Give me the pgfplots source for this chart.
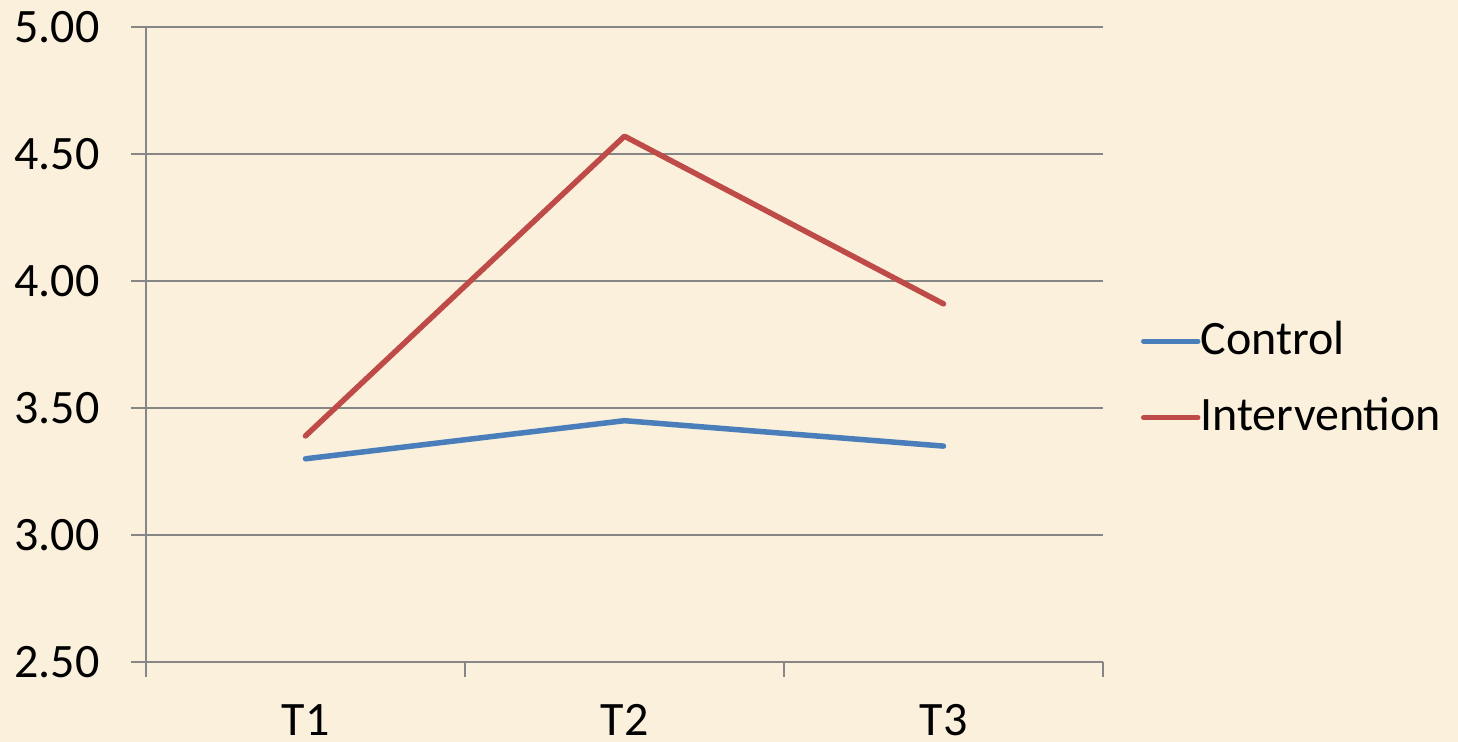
\documentclass[border=0pt]{standalone}
\usepackage{fontspec}
\setmainfont{Carlito}
\usepackage{pgfplots}
\pgfplotsset{compat=1.18}
\definecolor{bg}{RGB}{250,240,220}
\definecolor{gridgray}{RGB}{134,134,134}
\definecolor{cblue}{RGB}{74,126,187}
\definecolor{cred}{RGB}{190,75,72}
\newcommand{\chartfont}{\fontsize{24}{28}\selectfont}
\begin{document}
\chartfont
\begin{tikzpicture}
\fill[bg] (-73pt,-40pt) rectangle (656pt,331pt);
\begin{axis}[
  at={(0,0)}, anchor=south west,
  scale only axis, width=478.5pt, height=317.5pt,
  xmin=-0.5, xmax=2.5, ymin=2.5, ymax=5,
  axis x line=bottom, axis y line=left,
  axis line style={draw=gridgray, line width=1pt, -},
  tick align=outside,
  major tick length=7.5pt,
  tick style={draw=gridgray, line width=1pt},
  xtick={-0.5,0.5,1.5,2.5},
  xticklabels={},
  extra x ticks={0,1,2},
  extra x tick labels={T1,T2,T3},
  extra x tick style={major tick length=0pt, tick style={draw=none}},
  x tick label style={font=\chartfont, anchor=north, inner sep=0pt, yshift=-21pt},
  ytick={2.5,3,3.5,4,4.5,5},
  ymajorgrids,
  grid style={draw=gridgray, line width=1pt},
  y tick label style={font=\chartfont, anchor=east, inner sep=0pt, xshift=-15.5pt},
  /pgf/number format/assume math mode=true,
  yticklabel style={/pgf/number format/.cd, fixed, fixed zerofill, precision=2},
  legend style={at={(1,0.4449)}, anchor=west, xshift=19pt, draw=none, fill=none,
    inner sep=0pt, outer sep=0pt, row sep=18pt, font=\chartfont,
    nodes={inner sep=0pt}},
  legend cell align=left,
  /tikz/every even column/.append style={column sep=2.5pt},
  legend image code/.code={\draw[#1, line cap=round] (0pt,0pt) -- (27pt,0pt);},
  clip=false,
]
\addplot[cblue, line width=2.75pt, line cap=round, line join=round] coordinates {(0,3.30) (1,3.45) (2,3.35)};
\addlegendentry{Control}
\addplot[cred, line width=2.75pt, line cap=round, line join=round] coordinates {(0,3.39) (1,4.57) (2,3.91)};
\addlegendentry{Intervention}
\end{axis}
\end{tikzpicture}
\end{document}
